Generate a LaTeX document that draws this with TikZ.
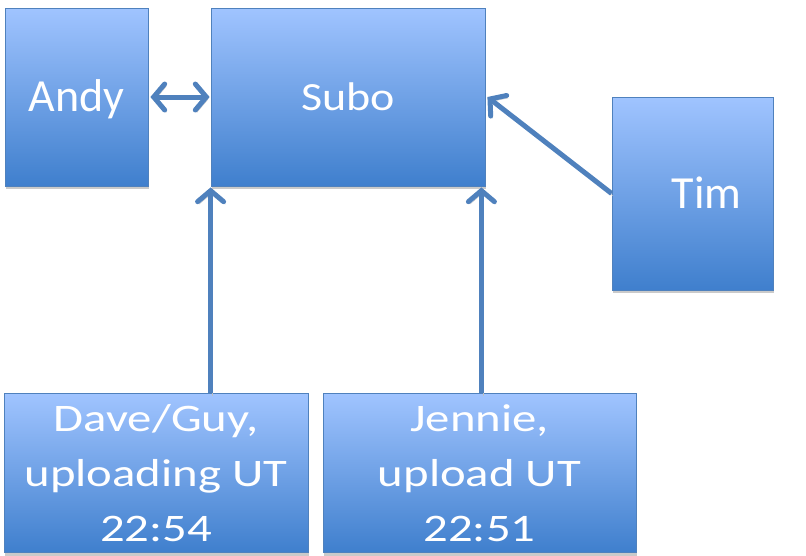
\documentclass[tikz,border=0pt]{standalone}
\usepackage{fontspec}
\setmainfont{Carlito}
\newfontfamily\boxfont[FakeStretch=1.25]{Carlito}
\newfontfamily\subofont[FakeStretch=1.15]{Carlito}
\usetikzlibrary{arrows.meta,shadows}
\definecolor{boxtop}{HTML}{A0C4FF}
\definecolor{boxbot}{HTML}{3F7FCD}
\definecolor{boxline}{HTML}{4F81BD}
\definecolor{arrowc}{HTML}{4F81BD}
\tikzset{
  box/.style={rectangle, draw=boxline, line width=0.8pt, top color=boxtop, bottom color=boxbot,
    text=white, font=\boxfont\fontsize{39}{55}\selectfont, align=center, inner sep=0pt,
    drop shadow={shadow xshift=1pt, shadow yshift=-3pt, fill=gray!70, opacity=0.6}},
  single/.style={font=\normalfont\fontsize{46}{55}\selectfont, text height=29.6pt, text depth=0pt},
  singlemid/.style={font=\subofont\fontsize{40}{55}\selectfont, text height=26pt, text depth=0pt},
  tip/.tip={Straight Barb[length=11pt,width=26pt,line cap=round]},
  arr/.style={draw=arrowc, line width=5pt, -tip,
    preaction={draw=gray!50, transform canvas={shift={(1.5pt,-2.5pt)}}}},
  darr/.style={draw=arrowc, line width=5pt, tip-tip,
    preaction={draw=gray!50, transform canvas={shift={(1.5pt,-2.5pt)}}}},
}
\begin{document}
\begin{tikzpicture}[x=1pt,y=-1pt]
\useasboundingbox (0,0) rectangle (806,555);
\node[box, single, minimum width=143pt, minimum height=178pt] (andy) at (76.5,97) {Andy};
\node[box, singlemid, minimum width=274pt, minimum height=178pt] (subo) at (348,97) {Subo};
\node[box, single, minimum width=161pt, minimum height=193pt] (tim) at (692.5,193.5) {\hspace*{28pt}Tim};
\node[box, minimum width=304pt, minimum height=159pt] (dave) at (156,473) {Dave/Guy,\\uploading UT\\22:54};
\node[box, minimum width=313pt, minimum height=159pt] (jennie) at (479.5,473) {Jennie,\\upload UT\\22:51};
\draw[darr] ([xshift=2pt]andy.east) -- ([xshift=-1pt]subo.west);
\draw[arr] (dave.north -| subo.south west) -- ([yshift=-1pt]subo.south west);
\draw[arr] ([xshift=-4pt]subo.south east |- jennie.north) -- ([xshift=-4pt,yshift=-1pt]subo.south east);
\draw[arr] (tim.west) -- ([xshift=2pt]subo.east);
\end{tikzpicture}
\end{document}
